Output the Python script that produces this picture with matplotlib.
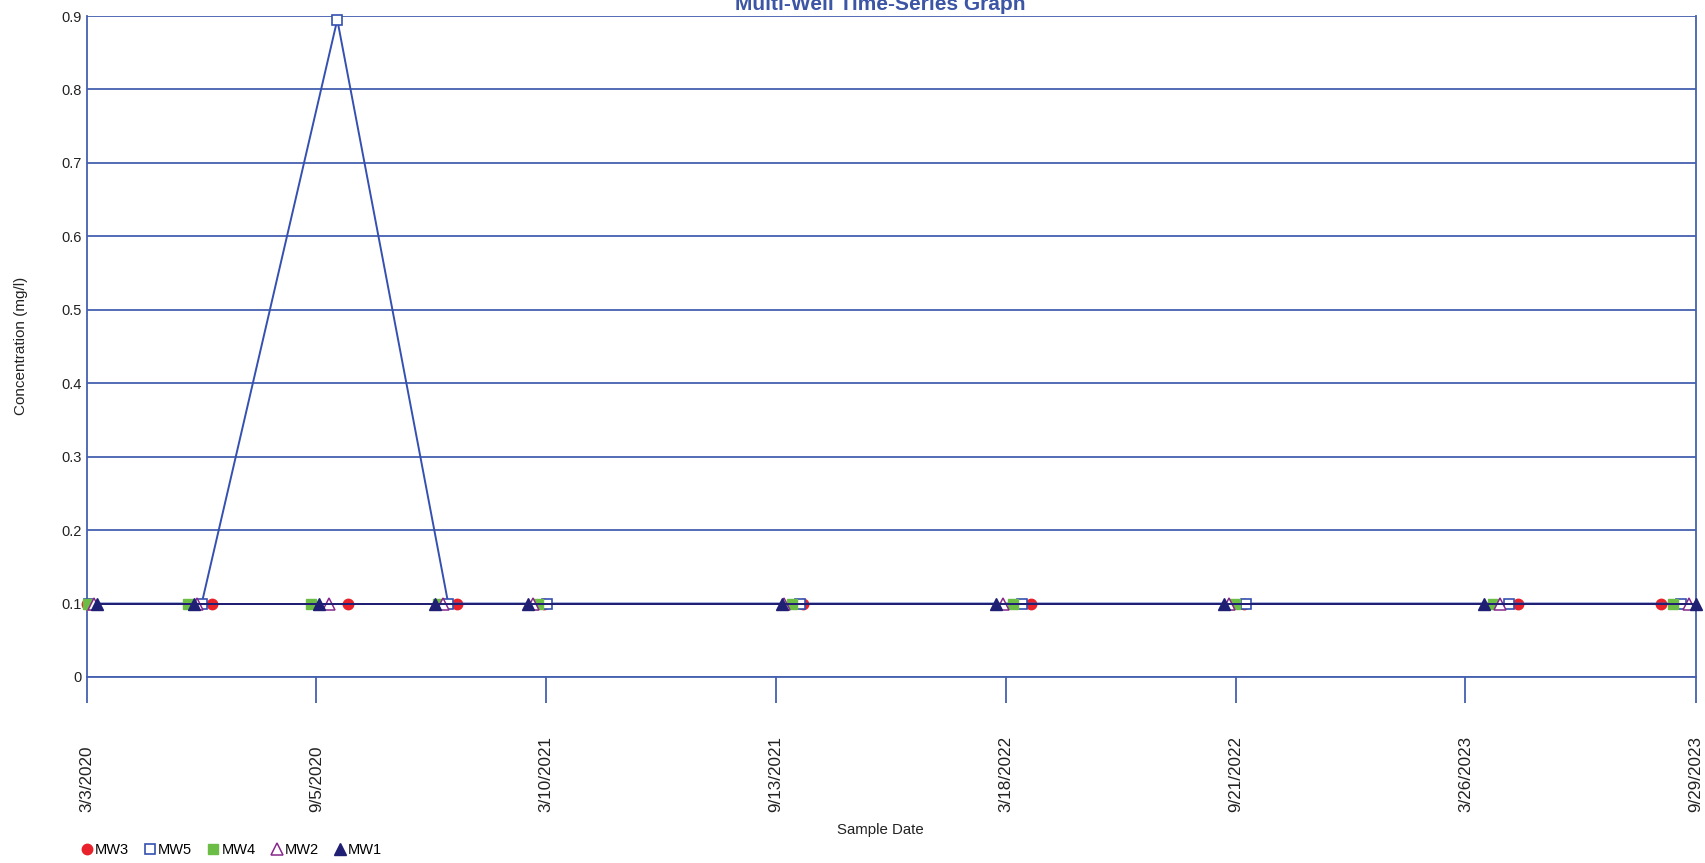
import matplotlib
matplotlib.use("Agg")
import matplotlib.pyplot as plt
from datetime import datetime

plt.rcParams['font.family'] = ['Liberation Sans', 'DejaVu Sans']

# Sample dates and concentrations per well
mw3_dates = ["2020-03-03", "2020-06-12", "2020-10-01", "2020-12-28", "2021-03-09",
             "2021-10-05", "2022-04-08", "2022-09-27", "2023-05-08", "2023-09-01"]
mw3_vals = [0.1, 0.1, 0.1, 0.1, 0.1, 0.1, 0.1, 0.1, 0.1, 0.1]

mw5_dates = ["2020-03-05", "2020-06-04", "2020-09-22", "2020-12-21", "2021-03-11",
             "2021-10-02", "2022-03-31", "2022-09-29", "2023-04-30", "2023-09-17"]
mw5_vals = [0.1, 0.1, 0.895, 0.1, 0.1, 0.1, 0.1, 0.1, 0.1, 0.1]

mw4_dates = ["2020-03-04", "2020-05-24", "2020-09-01", "2020-12-13", "2021-03-04",
             "2021-09-26", "2022-03-24", "2022-09-20", "2023-04-17", "2023-09-10"]
mw4_vals = [0.1, 0.1, 0.1, 0.1, 0.1, 0.1, 0.1, 0.1, 0.1, 0.1]

mw2_dates = ["2020-03-09", "2020-05-31", "2020-09-15", "2020-12-17", "2021-02-28",
             "2021-09-19", "2022-03-16", "2022-09-15", "2023-04-23", "2023-09-23"]
mw2_vals = [0.1, 0.1, 0.1, 0.1, 0.1, 0.1, 0.1, 0.1, 0.1, 0.1]

mw1_dates = ["2020-03-11", "2020-05-29", "2020-09-07", "2020-12-10", "2021-02-24",
             "2021-09-18", "2022-03-10", "2022-09-11", "2023-04-10", "2023-09-29"]
mw1_vals = [0.1, 0.1, 0.1, 0.1, 0.1, 0.1, 0.1, 0.1, 0.1, 0.1]

tick_dates = ["2020-03-03", "2020-09-05", "2021-03-10", "2021-09-13",
              "2022-03-18", "2022-09-21", "2023-03-26", "2023-09-29"]
tick_labels = ["3/3/2020", "9/5/2020", "3/10/2021", "9/13/2021",
               "3/18/2022", "9/21/2022", "3/26/2023", "9/29/2023"]
y_ticks = [0, 0.1, 0.2, 0.3, 0.4, 0.5, 0.6, 0.7, 0.8, 0.9]
y_labels = ["0", "0.1", "0.2", "0.3", "0.4", "0.5", "0.6", "0.7", "0.8", "0.9"]


def to_dt(seq):
    return [datetime.strptime(s, "%Y-%m-%d") for s in seq]


AXIS_BLUE = "#4460B0"
TEXT = "#222222"

fig = plt.figure(figsize=(17.05, 8.63), dpi=100)
ax = fig.add_axes([87 / 1705, 1 - 677 / 863, (1696 - 87) / 1705, (677 - 16) / 863])

series = [
    ("MW3", mw3_dates, mw3_vals, dict(marker="o", color="#E8212B", mfc="#E8212B", mec="#E8212B", ms=7.5)),
    ("MW5", mw5_dates, mw5_vals, dict(marker="s", color="#3550B0", mfc="white", mec="#3550B0", ms=7, mew=1.2)),
    ("MW4", mw4_dates, mw4_vals, dict(marker="s", color="#6CBD45", mfc="#6CBD45", mec="#6CBD45", ms=7.5)),
    ("MW2", mw2_dates, mw2_vals, dict(marker="^", color="#88288C", mfc="white", mec="#88288C", ms=8, mew=1.1)),
    ("MW1", mw1_dates, mw1_vals, dict(marker="^", color="#1F1F74", mfc="#1F1F74", mec="#1F1F74", ms=8.5)),
]

for i, (name, d, v, st) in enumerate(series):
    ax.plot(to_dt(d), v, lw=1.4, label=name, zorder=3 + i, clip_on=False, **st)

ax.set_xlim(datetime(2020, 3, 3), datetime(2023, 9, 29))
ax.set_ylim(0, 0.9)

# x labels are rotated and anchored at their lower end
ax.set_xticks(to_dt(tick_dates))
ax.set_xticklabels(tick_labels, rotation=90, fontsize=12.3, color=TEXT, va="bottom")
ax.set_yticks(y_ticks)
ax.set_yticklabels(y_labels, fontsize=10.5, color=TEXT)

ax.tick_params(axis="x", length=19, width=1.3, color=AXIS_BLUE, pad=78.5, direction="out")
ax.tick_params(axis="y", length=0, pad=4)

ax.grid(axis="y", color=AXIS_BLUE, lw=1.3, zorder=1)
ax.set_axisbelow(True)
for side in ["left", "bottom", "right", "top"]:
    ax.spines[side].set_color(AXIS_BLUE)
    ax.spines[side].set_linewidth(1.3)
ax.spines["top"].set_visible(False)

fig.text(21 / 1705, 1 - 346 / 863, "Concentration (mg/l)", rotation=90, ha="center", va="center",
         fontsize=11, color=TEXT)
fig.text(880 / 1705, 1 - 830 / 863, "Sample Date", ha="center", va="center",
         fontsize=10.8, color=TEXT)
fig.text(880 / 1705, 1 - 10 / 863, "Multi-Well Time-Series Graph", ha="center", va="baseline",
         fontsize=15, fontweight="bold", color="#3D55A5")

leg = fig.legend(loc="center left", bbox_to_anchor=(81 / 1705, 1 - 850 / 863), ncol=5,
                 frameon=False, fontsize=10.5, handlelength=0.8, handletextpad=0.15,
                 columnspacing=1.05, borderaxespad=0, borderpad=0)
for h in leg.legend_handles:
    h.set_linestyle("None")

fig.savefig("out.png", dpi=100)
